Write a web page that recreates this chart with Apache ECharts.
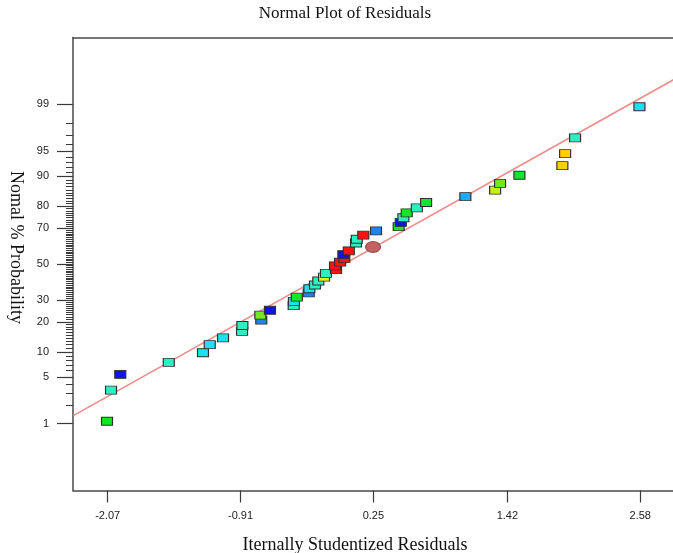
<!DOCTYPE html>
<html>
<head>
<meta charset="utf-8">
<script src="https://cdn.jsdelivr.net/npm/echarts@6/dist/echarts.min.js"></script>
<style>
  html, body { margin: 0; padding: 0; background: #fff; }
  #chart { width: 673px; height: 553px; }
</style>
</head>
<body>
<div id="chart"></div>
<script>
// residuals, in rank order (low to high probability)
const residuals = [
  -2.076, -2.041, -1.960, -1.537, -1.238, -1.179, -1.063, -0.897, -0.894, -0.729,
  -0.737, -0.653, -0.446, -0.444, -0.419, -0.315, -0.309, -0.260, -0.231, -0.181,
  -0.164, -0.076, -0.085, -0.041, -0.004, -0.012, 0.035, 0.247, 0.098, 0.105,
  0.162, 0.273, 0.471, 0.489, 0.512, 0.541, 0.629, 0.710, 1.053, 1.313,
  1.356, 1.525, 1.900, 1.924, 2.011, 2.573
];
// normal % probability of each point
const probabilities = [
  1.1, 3.3, 5.4, 7.6, 9.8, 12.0, 14.1, 16.3, 18.5, 20.7,
  22.8, 25.0, 27.2, 29.3, 31.5, 33.7, 35.9, 38.0, 40.2, 42.4,
  44.6, 46.7, 48.9, 51.1, 53.3, 55.4, 57.6, 59.8, 62.0, 64.1,
  66.3, 68.5, 70.7, 72.8, 75.0, 77.2, 79.3, 81.5, 83.7, 85.9,
  88.0, 90.2, 92.4, 94.6, 96.7, 98.9
];
const pointColors = [
  'G', 'A', 'B', 'A', 'C', 'C', 'C', 'A', 'A', 'D',
  'L', 'B', 'A', 'C', 'G', 'D', 'C', 'A', 'A', 'Y',
  'A', 'R', 'R', 'R', 'R', 'B', 'R', 'E', 'A', 'A',
  'R', 'D', 'G', 'B', 'A', 'G', 'A', 'G', 'S', 'V',
  'L', 'G', 'O', 'O', 'A', 'C'
];
const palette = {
  G: '#12e62a', A: '#2cf0c2', C: '#1ae2f4', B: '#1212ee', D: '#1e82f2',
  S: '#1aaef2', L: '#72e81e', V: '#c4f012', Y: '#e6ee1c', O: '#ffd000',
  R: '#ff1212', E: '#c2625e'
};

const xTickLabels = [-2.07, -0.91, 0.25, 1.42, 2.58];
const yTickLabels = [1, 5, 10, 20, 30, 50, 70, 80, 90, 95, 99];

// reference line end points (residual, %)
const refLineX = [-2.37, 2.95];
const refLineP = [1.36, 99.71];

// inverse normal cdf (Acklam) for the probability axis
function probit(p) {
  const a = [-39.69683028665376, 220.9460984245205, -275.9285104469687, 138.3577518672690, -30.66479806614716, 2.506628277459239];
  const b = [-54.47609879822406, 161.5858368580409, -155.6989798598866, 66.80131188771972, -13.28068155288572];
  const c = [-0.007784894002430293, -0.3223964580411365, -2.400758277161838, -2.549732539343734, 4.374664141464968, 2.938163982698783];
  const d = [0.007784695709041462, 0.3224671290700398, 2.445134137142996, 3.754408661907416];
  const pl = 0.02425;
  let q, r;
  if (p < pl) {
    q = Math.sqrt(-2 * Math.log(p));
    return (((((c[0] * q + c[1]) * q + c[2]) * q + c[3]) * q + c[4]) * q + c[5]) /
      ((((d[0] * q + d[1]) * q + d[2]) * q + d[3]) * q + 1);
  }
  if (p > 1 - pl) {
    q = Math.sqrt(-2 * Math.log(1 - p));
    return -(((((c[0] * q + c[1]) * q + c[2]) * q + c[3]) * q + c[4]) * q + c[5]) /
      ((((d[0] * q + d[1]) * q + d[2]) * q + d[3]) * q + 1);
  }
  q = p - 0.5;
  r = q * q;
  return (((((a[0] * r + a[1]) * r + a[2]) * r + a[3]) * r + a[4]) * r + a[5]) * q /
    (((((b[0] * r + b[1]) * r + b[2]) * r + b[3]) * r + b[4]) * r + 1);
}
const z = pct => probit(pct / 100);

const majorTicks = yTickLabels.map(z);
const minorTicks = [];
for (let p = 1; p <= 99; p++) minorTicks.push(z(p));

const points = residuals.map((x, i) => {
  const key = pointColors[i];
  const isEllipse = key === 'E';
  return {
    value: [x, z(probabilities[i])],
    symbol: isEllipse ? 'circle' : 'rect',
    symbolSize: isEllipse ? [15, 11] : [11, 8],
    itemStyle: {
      color: palette[key],
      borderColor: isEllipse ? '#9a4c4a' : '#303030',
      borderWidth: 1,
      opacity: 1
    }
  };
});

const chart = echarts.init(document.getElementById('chart'), null, { renderer: 'canvas' });

const frameLine = { show: true, onZero: false, lineStyle: { color: '#4a4a4a', width: 1.5 } };
const xRange = { type: 'value', min: -2.373, max: 2.866 };
const yRange = { type: 'value', min: -3.3, max: 3.3, position: 'left', splitLine: { show: false } };

chart.setOption({
  animation: false,
  backgroundColor: '#fff',
  grid: { left: 73, top: 37.5, right: 0, bottom: 62.5 },
  xAxis: [
    {
      ...xRange,
      position: 'bottom',
      axisLine: frameLine,
      splitLine: { show: false },
      axisTick: {
        customValues: xTickLabels,
        length: 12,
        lineStyle: { color: '#3a3a3a', width: 1.2 }
      },
      axisLabel: {
        customValues: xTickLabels,
        margin: 20,
        color: '#222',
        fontFamily: 'Liberation Sans',
        fontSize: 11,
        formatter: v => v.toFixed(2)
      }
    },
    {
      // top edge of the frame
      ...xRange,
      position: 'top',
      axisLine: frameLine,
      splitLine: { show: false },
      axisTick: { show: false },
      axisLabel: { show: false }
    }
  ],
  yAxis: [
    {
      ...yRange,
      axisLine: frameLine,
      axisTick: {
        customValues: majorTicks,
        length: 16,
        lineStyle: { color: '#3a3a3a', width: 1.2 }
      },
      axisLabel: {
        customValues: majorTicks,
        margin: 24,
        color: '#222',
        fontFamily: 'Liberation Sans',
        fontSize: 11,
        formatter: v => {
          let best = 0;
          majorTicks.forEach((t, i) => {
            if (Math.abs(t - v) < Math.abs(majorTicks[best] - v)) best = i;
          });
          return String(yTickLabels[best]);
        }
      }
    },
    {
      ...yRange,
      axisLine: { show: false, onZero: false },
      axisTick: {
        customValues: minorTicks,
        length: 7,
        lineStyle: { color: '#3a3a3a', width: 1 }
      },
      axisLabel: { show: false }
    }
  ],
  graphic: [
    {
      type: 'text', x: 345, y: 14,
      style: {
        text: 'Normal Plot of Residuals',
        font: '17px "Liberation Serif"', fill: '#111',
        textAlign: 'center', textVerticalAlign: 'middle'
      }
    },
    {
      type: 'text', x: 355, y: 545,
      style: {
        text: 'Iternally Studentized Residuals',
        font: '18px "Liberation Serif"', fill: '#111',
        textAlign: 'center', textVerticalAlign: 'middle'
      }
    },
    {
      type: 'text', x: 16, y: 247.5, rotation: -Math.PI / 2,
      style: {
        text: 'Nomal % Probability',
        font: '18px "Liberation Serif"', fill: '#111',
        textAlign: 'center', textVerticalAlign: 'middle'
      }
    }
  ],
  series: [
    {
      type: 'line',
      data: refLineX.map((x, i) => [x, z(refLineP[i])]),
      showSymbol: false,
      silent: true,
      lineStyle: { color: '#f08c8c', width: 1.6 },
      z: 1
    },
    {
      type: 'scatter',
      data: points,
      z: 2
    }
  ]
});
</script>
</body>
</html>
